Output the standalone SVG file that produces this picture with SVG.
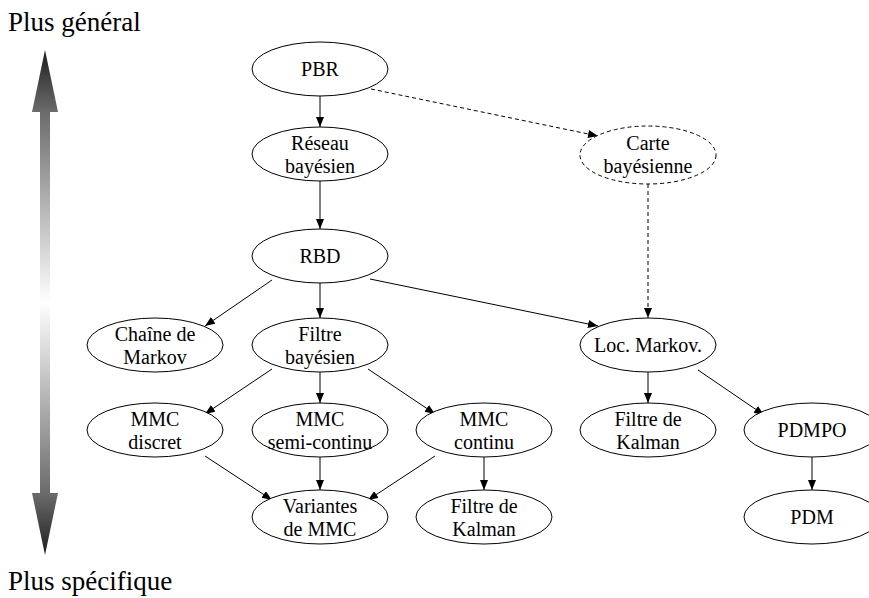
<svg xmlns="http://www.w3.org/2000/svg" width="869" height="598" viewBox="0 0 869 598">
<style>
.n ellipse{fill:#fff;stroke:#000;stroke-width:1}
.n text{font-size:20px;text-anchor:middle;dominant-baseline:central;fill:#000}
.lbl{font-size:27px;fill:#000}
#edges line{stroke:#000;stroke-width:1;marker-end:url(#ah)}
#edges line.d{stroke-dasharray:4,3}
.dash{stroke-dasharray:4,3}
</style>
<defs>
<marker id="ah" markerUnits="userSpaceOnUse" markerWidth="11" markerHeight="9" refX="10" refY="4" orient="auto" viewBox="0 0 11 9">
<path d="M0,0 L10,4 L0,8 z" fill="#000"/>
</marker>
<linearGradient id="g" gradientUnits="userSpaceOnUse" x1="0" y1="50" x2="0" y2="555">
<stop offset="0" stop-color="#1e1e1e"/>
<stop offset="0.12" stop-color="#6a6a6a"/>
<stop offset="0.5" stop-color="#ffffff"/>
<stop offset="0.88" stop-color="#6a6a6a"/>
<stop offset="1" stop-color="#1e1e1e"/>
</linearGradient>
</defs>
<rect width="869" height="598" fill="#fff"/>
<g font-family="'Liberation Serif', Tinos, 'Times New Roman', serif">
<text class="lbl" x="8" y="31">Plus général</text>
<text class="lbl" x="8" y="590">Plus spécifique</text>
<polygon fill="url(#g)" points="45,50 58,112 50,112 50,493 58,493 45,555 32,493 40,493 40,112 32,112"/>
<g id="edges">
<line x1="320" y1="96" x2="320" y2="127"/>
<line class="d" x1="371" y1="89" x2="598" y2="136"/>
<line x1="320" y1="181" x2="320" y2="229"/>
<line class="d" x1="648" y1="184" x2="648" y2="318"/>
<line x1="272" y1="280" x2="205" y2="326"/>
<line x1="320" y1="283" x2="320" y2="318"/>
<line x1="370" y1="279" x2="598" y2="326"/>
<line x1="272" y1="369" x2="205" y2="414"/>
<line x1="320" y1="372" x2="320" y2="403"/>
<line x1="368" y1="369" x2="435" y2="414"/>
<line x1="648" y1="372" x2="648" y2="403"/>
<line x1="698" y1="370" x2="764" y2="415"/>
<line x1="205" y1="456" x2="272" y2="500"/>
<line x1="320" y1="457" x2="320" y2="490"/>
<line x1="435" y1="456" x2="368" y2="500"/>
<line x1="484" y1="457" x2="484" y2="490"/>
<line x1="812" y1="457" x2="812" y2="490"/>
</g>
<g id="pbr" class="n"><ellipse cx="320" cy="69" rx="68" ry="27"/><text x="320" y="69">PBR</text></g>
<g id="reseau" class="n"><ellipse cx="320" cy="154" rx="68" ry="27"/><text x="320" y="143">Réseau</text><text x="320" y="166">bayésien</text></g>
<g id="carte" class="n"><ellipse class="dash" cx="648" cy="155" rx="68" ry="29"/><text x="648" y="143">Carte</text><text x="648" y="166">bayésienne</text></g>
<g id="rbd" class="n"><ellipse cx="320" cy="256" rx="68" ry="27"/><text x="320" y="256">RBD</text></g>
<g id="chaine" class="n"><ellipse cx="155" cy="345" rx="68" ry="27"/><text x="155" y="334">Chaîne de</text><text x="155" y="357">Markov</text></g>
<g id="filtreb" class="n"><ellipse cx="320" cy="345" rx="68" ry="27"/><text x="320" y="334">Filtre</text><text x="320" y="357">bayésien</text></g>
<g id="locmarkov" class="n"><ellipse cx="648" cy="345" rx="68" ry="27"/><text x="648" y="345">Loc. Markov.</text></g>
<g id="mmcdiscret" class="n"><ellipse cx="155" cy="430" rx="68" ry="27"/><text x="155" y="419">MMC</text><text x="155" y="442">discret</text></g>
<g id="mmcsemi" class="n"><ellipse cx="320" cy="430" rx="68" ry="27"/><text x="320" y="419">MMC</text><text x="320" y="442">semi-continu</text></g>
<g id="mmccontinu" class="n"><ellipse cx="484" cy="430" rx="68" ry="27"/><text x="484" y="419">MMC</text><text x="484" y="442">continu</text></g>
<g id="kalman1" class="n"><ellipse cx="648" cy="430" rx="68" ry="27"/><text x="648" y="419">Filtre de</text><text x="648" y="442">Kalman</text></g>
<g id="pdmpo" class="n"><ellipse cx="812" cy="430" rx="68" ry="27"/><text x="812" y="430">PDMPO</text></g>
<g id="variantes" class="n"><ellipse cx="320" cy="517" rx="68" ry="27"/><text x="320" y="506">Variantes</text><text x="320" y="529">de MMC</text></g>
<g id="kalman2" class="n"><ellipse cx="484" cy="517" rx="68" ry="27"/><text x="484" y="506">Filtre de</text><text x="484" y="529">Kalman</text></g>
<g id="pdm" class="n"><ellipse cx="812" cy="517" rx="68" ry="27"/><text x="812" y="517">PDM</text></g>
</g>
</svg>
